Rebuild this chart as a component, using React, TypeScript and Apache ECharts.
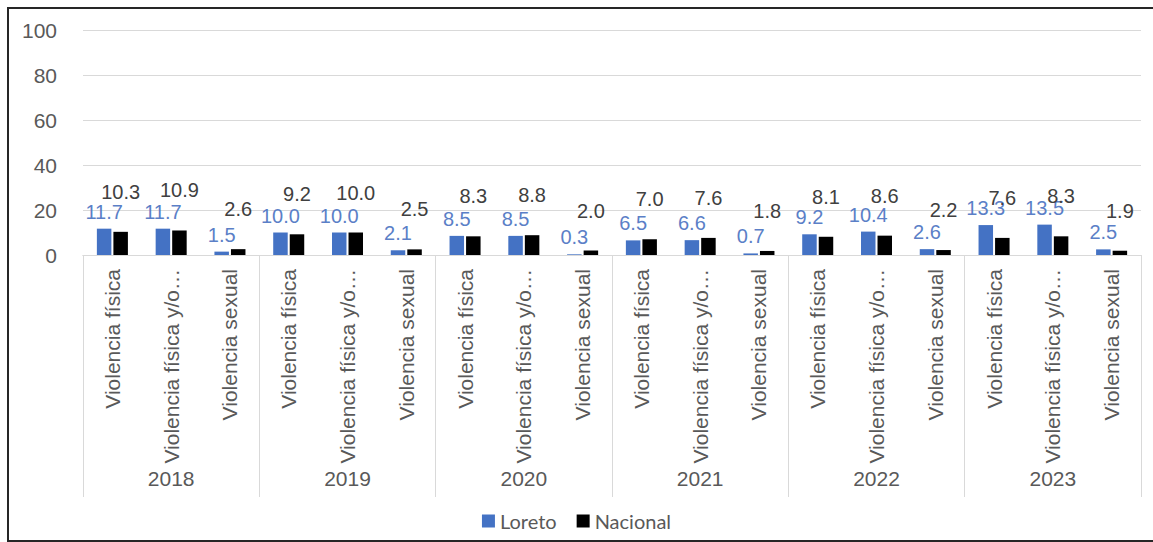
import React, { useEffect, useRef } from "react";
import * as echarts from "echarts";

const years = ["2018", "2019", "2020", "2021", "2022", "2023"];
const indicators = ["Violencia física", "Violencia física y/o sexual", "Violencia sexual"];
const categories = years.flatMap(() => indicators);
const loreto = [11.7, 11.7, 1.5, 10.0, 10.0, 2.1, 8.5, 8.5, 0.3, 6.5, 6.6, 0.7, 9.2, 10.4, 2.6, 13.3, 13.5, 2.5];
const nacional = [10.3, 10.9, 2.6, 9.2, 10.0, 2.5, 8.3, 8.8, 2.0, 7.0, 7.6, 1.8, 8.1, 8.6, 2.2, 7.6, 8.3, 1.9];
const yTicks = { min: 0, max: 100, interval: 20 };

const FONT = "'Liberation Sans', Arial, sans-serif";

export default function App() {
  const ref = useRef<HTMLDivElement>(null);
  useEffect(() => {
    if (!ref.current) return;
    const chart = echarts.init(ref.current, null, { renderer: "svg" });
    chart.setOption({
      animation: false,
      backgroundColor: "#ffffff",
      textStyle: { fontFamily: FONT },
      grid: { left: 83, right: 12, top: 30, bottom: 287, containLabel: false },
      legend: {
        data: ["Loreto", "Nacional"],
        top: 506,
        left: "center",
        icon: "rect",
        itemWidth: 13,
        itemHeight: 13,
        itemGap: 20,
        textStyle: { fontFamily: "Lato, 'Noto Sans', sans-serif", fontSize: 20, color: "#595959" },
      },
      xAxis: [
        {
          type: "category",
          data: categories,
          position: "bottom",
          axisLine: { show: true, lineStyle: { color: "#d9d9d9", width: 1 } },
          axisTick: { show: false },
          axisLabel: {
            interval: 0,
            rotate: 90,
            margin: 14,
            fontSize: 21,
            color: "#595959",
            fontFamily: FONT,
            width: 202,
            overflow: "truncate",
            ellipsis: "…",
          },
        },
        {
          type: "category",
          data: years,
          position: "bottom",
          offset: 0,
          axisLine: { show: true, lineStyle: { color: "#d9d9d9", width: 1 } },
          axisTick: { show: true, interval: 0, length: 242, lineStyle: { color: "#d9d9d9", width: 1 } },
          axisLabel: { interval: 0, margin: 213, fontSize: 21, color: "#595959", fontFamily: FONT },
        },
      ],
      yAxis: {
        type: "value",
        min: yTicks.min,
        max: yTicks.max,
        interval: yTicks.interval,
        axisLine: { show: false },
        axisTick: { show: false },
        splitLine: { lineStyle: { color: "#d9d9d9", width: 1 } },
        axisLabel: { fontSize: 21, color: "#595959", margin: 26, fontFamily: FONT },
      },
      series: [
        {
          name: "Loreto",
          type: "bar",
          xAxisIndex: 0,
          data: loreto,
          barWidth: 14.5,
          barGap: "14%",
          itemStyle: { color: "#4472C4" },
          label: {
            show: true,
            position: "top",
            distance: 7,
            fontSize: 20,
            color: "#5B7FC7",
            fontFamily: FONT,
            formatter: (p: any) => Number(p.value).toFixed(1),
          },
        },
        {
          name: "Nacional",
          type: "bar",
          xAxisIndex: 0,
          data: nacional,
          barWidth: 14.5,
          barGap: "14%",
          itemStyle: { color: "#000000" },
          label: {
            show: true,
            position: "top",
            distance: 30,
            fontSize: 20,
            color: "#404040",
            fontFamily: FONT,
            formatter: (p: any) => Number(p.value).toFixed(1),
          },
        },
      ],
      graphic: [
        {
          type: "rect",
          shape: { x: 8, y: 8, width: 1160, height: 533 },
          style: { fill: "none", stroke: "#262626", lineWidth: 2 },
          silent: true,
          z: 100,
        },
      ],
    });
    return () => chart.dispose();
  }, []);
  return (
    <div
      ref={ref}
      style={{ position: "absolute", left: 0, top: 0, width: 1153, height: 542 }}
    />
  );
}
